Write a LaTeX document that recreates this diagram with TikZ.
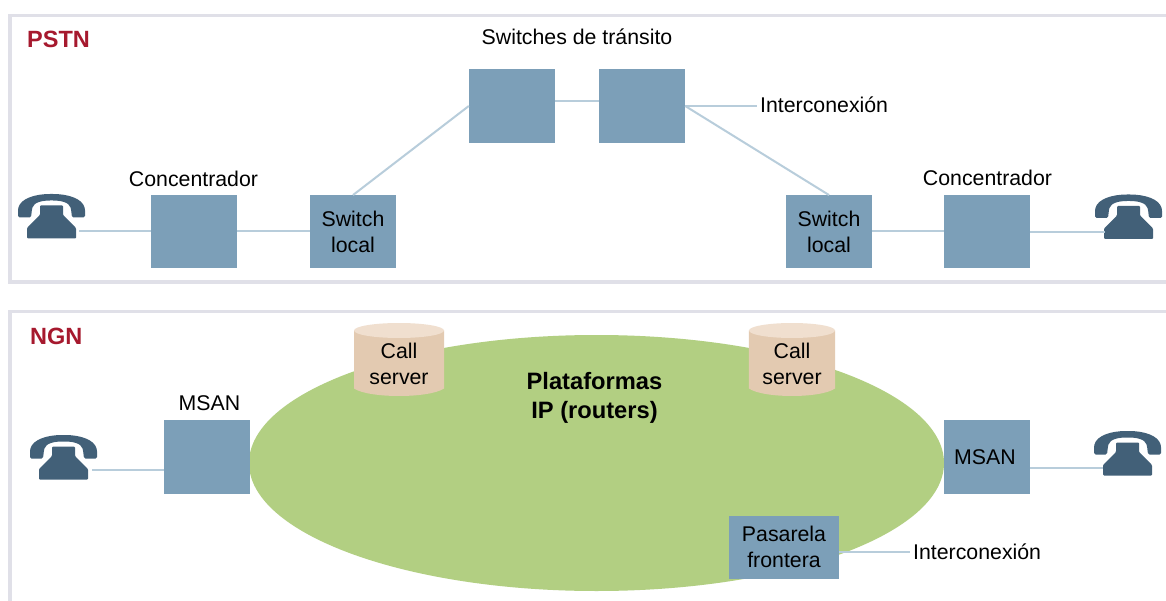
\documentclass[tikz,border=0pt]{standalone}
\usepackage{fontspec}
\usetikzlibrary{shapes.geometric}
\setmainfont{Liberation Sans}
\definecolor{frameC}{HTML}{E0E0E8}
\definecolor{boxC}{HTML}{7C9FB8}
\definecolor{lineC}{HTML}{B8CDDB}
\definecolor{greenC}{HTML}{B2CF82}
\definecolor{cylC}{HTML}{E3CAB1}
\definecolor{cylT}{HTML}{F0DFCF}
\definecolor{phoneC}{HTML}{426078}
\definecolor{redC}{HTML}{A6192E}
\tikzset{
  x=1pt,y=-1pt,
  base/.style={font=\fontsize{21.3}{26}\selectfont,text=black,inner sep=0pt,align=center},
  sq/.style={base,fill=boxC,minimum width=86pt,minimum height=73.5pt,draw=none},
  wire/.style={draw=lineC,line width=2pt},
  frameL/.style={draw=frameC,line width=3.2pt},
  heading/.style={font=\fontsize{23.5}{26}\selectfont\bfseries,text=redC,inner sep=0pt,anchor=west},
  phone/.pic={
    \fill[phoneC,rounded corners=1.5pt] (0,15) .. controls (3,4) and (18,0) .. (33.5,0) .. controls (49,0) and (64,4) .. (67,15) -- (67,23.5) -- (54,23.5) -- (53,15) .. controls (51,8) and (42,6.5) .. (33.5,6.5) .. controls (25,6.5) and (16,8) .. (14,15) -- (13,23.5) -- (0,23.5) -- cycle;
    \fill[phoneC,rounded corners=1pt] (22,11.5) -- (45,11.5) -- (45,21) -- (58,34) -- (58,44.5) -- (9,44.5) -- (9,34) -- (22,21) -- cycle;
  },
  cyl/.pic={
    \fill[cylC] (-45,-29) -- (-45,29) .. controls (-30,39) and (30,39) .. (45,29) -- (45,-29) -- cycle;
    \fill[cylT] (0,-29) ellipse[x radius=45,y radius=7.5];
  }
}
\begin{document}
\begin{tikzpicture}
\useasboundingbox (0,0) rectangle (1166,601);
\fill[white] (0,0) rectangle (1166,601);
% frames
\draw[frameL] (1166,15.5) -- (10,15.5) -- (10,282) -- (1166,282);
\draw[frameL] (1166,311.5) -- (10,311.5) -- (10,601);
% ellipse
\node[ellipse,fill=greenC,minimum width=695pt,minimum height=256pt,inner sep=0pt,draw=none] (ipnet) at (596.5,463) {};
% boxes
\node[sq] (concL) at (194,231.5) {};
\node[sq,minimum height=73pt] (swL) at (353,231.75) {Switch\\local};
\node[sq] (trA) at (512,106) {};
\node[sq] (trB) at (642,106) {};
\node[sq,minimum height=73pt] (swR) at (829,231.75) {Switch\\local};
\node[sq] (concR) at (987,231.5) {};
\node[sq] (msanL) at (207,457) {};
\node[sq] (msanR) at (987,457) {};
\node[sq,minimum width=110pt,minimum height=63.5pt] (pas) at (784,547.25) {Pasarela\\frontera};
% phones
\coordinate (ph1) at (18,194);
\coordinate (ph2) at (1095,194.5);
\coordinate (ph3) at (30,435);
\coordinate (ph4) at (1094,431);
\pic at (ph1) {phone};
\pic at (ph2) {phone};
\pic at (ph3) {phone};
\pic at (ph4) {phone};
\coordinate (ph1e) at (79,231.5);
\coordinate (ph2e) at (1105,232.5);
\coordinate (ph3e) at (92,470);
\coordinate (ph4e) at (1103,468);
% labels
\node[base,anchor=west] (lblInt1) at (760,105) {Interconexión};
\node[base,anchor=west] (lblInt2) at (913,552) {Interconexión};
\node[base] (lblTr) at (577,37) {Switches de tránsito};
\node[base] (lblCL) at (193.5,178.5) {Concentrador};
\node[base] (lblCR) at (987.5,177.5) {Concentrador};
\node[base] (lblML) at (209.5,403.5) {MSAN};
\node[base] (lblMR) at (985,457.5) {MSAN};
\node[heading] (hP) at (27,39) {PSTN};
\node[heading] (hN) at (30,336) {NGN};
\node[base,font=\fontsize{23.7}{29}\selectfont\bfseries] (lblIP) at (594.5,397.5) {Plataformas\\IP (routers)};
% connectors
\draw[wire] (ph1e) -- (ph1e -| concL.west);
\draw[wire] (concL.east) -- (swL.west |- concL.east);
\draw[wire] (swL.north) -- (trA.west);
\draw[wire] (trA.east |- 0,101) -- (trB.west |- 0,101);
\draw[wire] (trB.east) -- (swR.north);
\draw[wire] (trB.east) -- ([xshift=-3pt]lblInt1.west |- trB.east);
\draw[wire] (swR.east |- concR.west) -- (concR.west);
\draw[wire] (concR.east |- ph2e) -- (ph2e);
\draw[wire] (ph3e) -- (msanL.west |- ph3e);
\draw[wire] (msanR.east |- ph4e) -- (ph4e);
\draw[wire] (pas.east |- lblInt2) -- ([xshift=-3pt]lblInt2.west);
% call servers
\pic at (399,359.5) {cyl};
\node[base] (cs1) at (399,364) {Call\\server};
\pic[xscale=0.956] at (792,359.5) {cyl};
\node[base] (cs2) at (792,364) {Call\\server};
\end{tikzpicture}
\end{document}
